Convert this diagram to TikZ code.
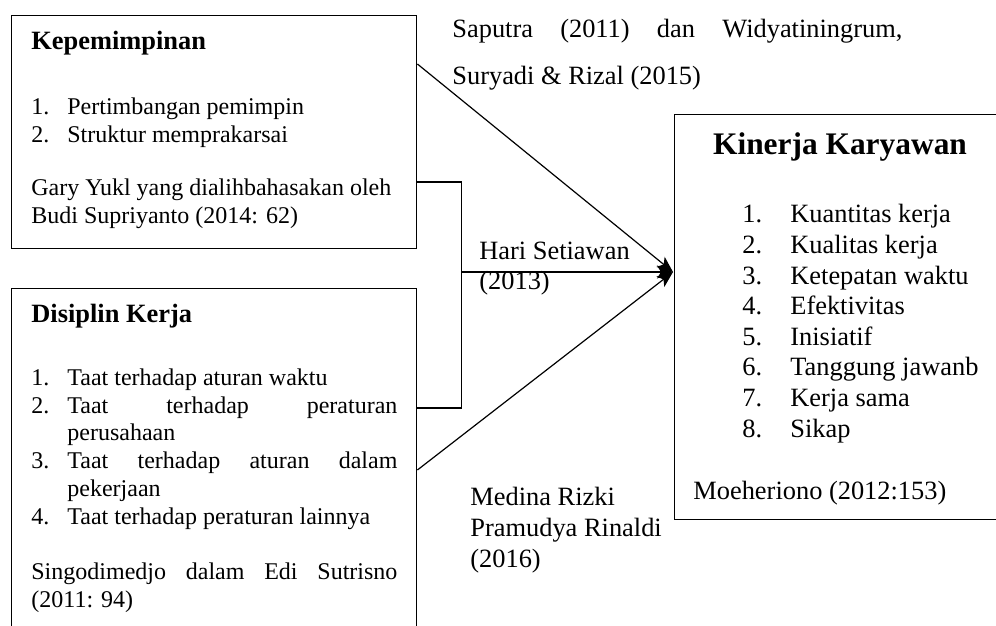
\documentclass[tikz,border=0pt]{standalone}
\usepackage{fontspec}
\setmainfont{Liberation Serif}
\usetikzlibrary{arrows.meta,calc}

\newcommand{\smallsz}{\fontsize{12}{13.85}\selectfont}
\newcommand{\bigsz}{\fontsize{13.2}{15.3}\selectfont}
\newcommand{\nr}[1]{\makebox[18pt][l]{#1}}
\newcommand{\nrwide}[1]{\makebox[24pt][l]{#1}}

\begin{document}
\begin{tikzpicture}[x=0.5pt, y=-0.5pt,
    box/.style={draw, line width=0.7pt, rectangle, inner sep=0pt, anchor=north west},
    txt/.style={inner sep=0pt, anchor=base west, align=left},
    link/.style={line width=0.6pt, -{Stealth[length=8pt,width=6.5pt,inset=2pt]}}]
    \path[use as bounding box, clip] (0,0) rectangle (996,626);

    % boxes
    \node[box, minimum width=202.5pt, minimum height=116.5pt] (kep) at (11,15) {};
    \node[box, minimum width=202.5pt, minimum height=186pt] (dis) at (11,288) {};
    \node[box, minimum width=168pt, minimum height=202.5pt] (kin) at (674,114) {};

    % Kepemimpinan (multi-line nodes sit on their last baseline)
    \node[txt, font=\bigsz\bfseries] (kepTitle) at (31,50) {Kepemimpinan};
    \node[txt, font=\smallsz] (kepList) at (31,142) {\nr{1.}Pertimbangan pemimpin\\\nr{2.}Struktur memprakarsai};
    \node[txt, font=\smallsz] (kepRef) at (31,223) {Gary Yukl yang dialihbahasakan oleh\\Budi Supriyanto (2014: 62)};

    % Disiplin Kerja
    \node[txt, font=\bigsz\bfseries] (disTitle) at (31,322) {Disiplin Kerja};
    \node[txt, font=\smallsz] (disList) at (31,524) {\nr{1.}Taat terhadap aturan waktu\\
        \nr{2.}\makebox[165pt]{Taat\hfill terhadap\hfill peraturan}\\
        \nr{}perusahaan\\
        \nr{3.}\makebox[165pt]{Taat\hfill terhadap\hfill aturan\hfill dalam}\\
        \nr{}pekerjaan\\
        \nr{4.}Taat terhadap peraturan lainnya};
    \node[txt, font=\smallsz] (disRef) at (31,607) {\makebox[183pt]{Singodimedjo\hfill dalam\hfill Edi\hfill Sutrisno}\\(2011: 94)};

    % Kinerja Karyawan
    \node[txt, anchor=base, font=\fontsize{15.7}{18}\selectfont\bfseries] (kinTitle) at (840,155) {Kinerja Karyawan};
    \node[txt, font=\bigsz] (kinList) at (742,437) {\nrwide{1.}Kuantitas kerja\\
        \nrwide{2.}Kualitas kerja\\
        \nrwide{3.}Ketepatan waktu\\
        \nrwide{4.}Efektivitas\\
        \nrwide{5.}Inisiatif\\
        \nrwide{6.}Tanggung jawanb\\
        \nrwide{7.}Kerja sama\\
        \nrwide{8.}Sikap};
    \node[txt, font=\bigsz] (kinRef) at (693,499) {Moeheriono (2012:153)};

    % sources on the links
    \node[txt, font=\fontsize{13.2}{23.5}\selectfont] (sapRef) at (452,85) {\makebox[225pt][l]{Saputra\hfill (2011)\hfill dan\hfill Widyatiningrum,}\\Suryadi \& Rizal (2015)};
    \node[txt, font=\fontsize{13.2}{15}\selectfont] (hariRef) at (479,289) {Hari Setiawan\\(2013)};
    \node[txt, font=\fontsize{13.2}{15.5}\selectfont] (medRef) at (470,567) {Medina Rizki\\Pramudya Rinaldi\\(2016)};

    % links
    \coordinate (tip) at (673,272);
    \coordinate (brk) at ($(dis.north east)+(44,-16)$);
    \draw[line width=0.6pt] ($(kep.north east)+(0,167)$) -| ($(dis.north east)+(44,120)$) -- ($(dis.north east)+(0,120)$);
    \draw[link] ($(kep.north east)+(0,49)$) -- (tip);
    \draw[link] (brk) -- (tip);
    \draw[link] ($(dis.north east)+(0,182)$) -- (tip);
\end{tikzpicture}
\end{document}
